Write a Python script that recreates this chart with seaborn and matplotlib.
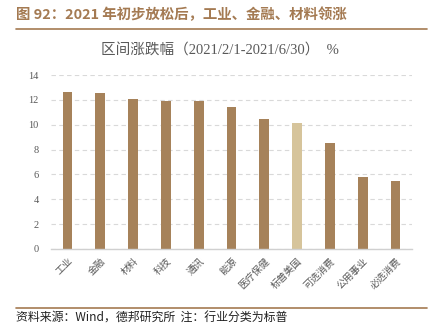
import matplotlib
matplotlib.use("Agg")
import matplotlib.pyplot as plt
import seaborn as sns
import pandas as pd
from matplotlib.lines import Line2D

sectors = ["工业", "金融", "材料", "科技", "通讯", "能源", "医疗保健",
           "标普美国", "可选消费", "公用事业", "必选消费"]
returns = [12.63, 12.52, 12.05, 11.9, 11.9, 11.45, 10.5, 10.1, 8.5, 5.82, 5.5]
yticks = [0, 2, 4, 6, 8, 10, 12, 14]

sns.set_theme(style="white")
plt.rcParams["font.family"] = ["Noto Sans CJK SC", "DejaVu Sans"]
SERIF_MIX = ["Liberation Serif", "Noto Sans CJK SC"]

BROWN = "#A6825A"
HIGHLIGHT = "#D6C49B"
GRAY = "#595959"

df = pd.DataFrame({"sector": sectors, "ret": returns})
df["kind"] = ["index" if s == "标普美国" else "sector" for s in sectors]

fig = plt.figure(figsize=(4.4, 3.35), dpi=100)
ax = fig.add_axes([0.116, 0.257, 0.82, 0.519])

sns.barplot(data=df, x="sector", y="ret", hue="kind",
            palette={"sector": BROWN, "index": HIGHLIGHT},
            width=0.3, dodge=False, legend=False, ax=ax,
            edgecolor="none", saturation=1)

ax.set_xlim(-0.5, len(sectors) - 0.5)
ax.set_ylim(0, 14)
ax.set_yticks(yticks)
ax.set_yticklabels([str(t) for t in yticks], fontsize=7.5, color=GRAY,
                   family=["Liberation Serif"])
ax.set_xticks(range(len(sectors)))
ax.set_xticklabels(sectors, rotation=45, ha="right", rotation_mode="anchor",
                   fontsize=7, color=GRAY)
ax.tick_params(axis="x", length=0, pad=5)
ax.tick_params(axis="y", length=0, pad=9)
ax.set_xlabel("")
ax.set_ylabel("")
ax.yaxis.grid(True, linestyle=(0, (4, 3)), color="#D9D9D9", linewidth=0.8)
ax.set_axisbelow(True)
for side in ["top", "right", "left"]:
    ax.spines[side].set_visible(False)
ax.spines["bottom"].set_color("#D0D0D0")
ax.spines["bottom"].set_linewidth(1.0)

fig.text(0.036, 0.955, "图 92：2021 年初步放松后，工业、金融、材料领涨",
         fontsize=10.4, fontweight="bold", color="#A47A52", va="center")
fig.add_artist(Line2D([0.036, 0.97], [0.913, 0.913], color="#A47A52",
                      linewidth=1.2, transform=fig.transFigure))
fig.text(0.5, 0.848, "区间涨跌幅（2021/2/1-2021/6/30）  %", fontsize=10.5,
         color=GRAY, ha="center", va="center", family=SERIF_MIX)
fig.add_artist(Line2D([0.036, 0.97], [0.081, 0.081], color="#A47A52",
                      linewidth=1.2, transform=fig.transFigure))
fig.text(0.036, 0.05, "资料来源：Wind，德邦研究所  注：行业分类为标普",
         fontsize=8.6, color="#222222", va="center")

fig.savefig("out.png", dpi=100)
